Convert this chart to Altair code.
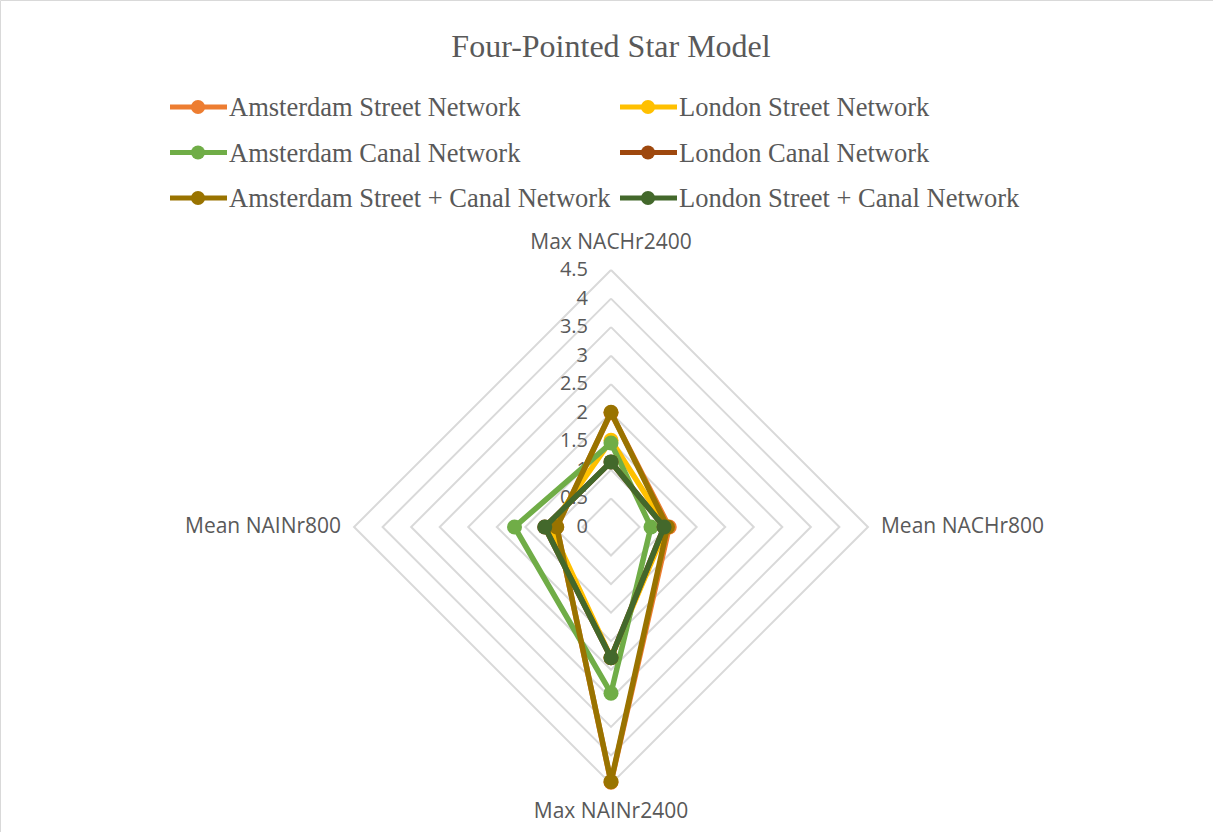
import altair as alt
import pandas as pd

# ---------------- data ----------------
axis_names = ["Max NACHr2400", "Mean NACHr800", "Max NAINr2400", "Mean NAINr800"]
series_names = [
    "Amsterdam Street Network",
    "London Street Network",
    "Amsterdam Canal Network",
    "London Canal Network",
    "Amsterdam Street + Canal Network",
    "London Street + Canal Network",
]
series_colors = ["#ED7D31", "#FFC000", "#70AD47", "#9E480E", "#997300", "#43682B"]

ams_street = [2.00, 1.02, 4.47, 0.95]
london_street = [1.52, 0.97, 2.29, 1.06]
ams_canal = [1.47, 0.70, 2.91, 1.69]
london_canal = [1.14, 0.93, 2.29, 1.16]
ams_street_canal = [2.01, 0.99, 4.46, 0.95]
london_street_canal = [1.14, 0.93, 2.29, 1.16]
series_values = [ams_street, london_street, ams_canal, london_canal,
                 ams_street_canal, london_street_canal]

tick_values = [0, 0.5, 1, 1.5, 2, 2.5, 3, 3.5, 4, 4.5]
tick_labels = ["0", "0.5", "1", "1.5", "2", "2.5", "3", "3.5", "4", "4.5"]
grid_levels = [0.5, 1, 1.5, 2, 2.5, 3, 3.5, 4, 4.5]
r_max = 4.5

# ---------------- layout ----------------
W, H = 1213, 832
CX, CY = 611, 527
U = 57.1  # pixels per unit
xdom = [-CX / U, (W - CX) / U]
ydom = [-(H - CY) / U, CY / U]

TXT = "#595959"
SANS = "Open Sans"
SERIF = "Liberation Serif"

xs = alt.Scale(domain=xdom, nice=False, zero=False)
ys = alt.Scale(domain=ydom, nice=False, zero=False)

def polar(chart, rfield):
    return chart.transform_calculate(
        ang="PI/2 - datum.k*PI/2"
    ).transform_calculate(
        px=f"datum.{rfield}*cos(datum.ang)",
        py=f"datum.{rfield}*sin(datum.ang)",
    )

X = alt.X("px:Q", scale=xs, axis=None)
Y = alt.Y("py:Q", scale=ys, axis=None)

layers = []

# grid diamonds
grid_rows = [{"level": lv, "k": k} for lv in grid_levels for k in range(5)]
grid = polar(alt.Chart(pd.DataFrame(grid_rows)), "level").mark_line(
    color="#D9D9D9", strokeWidth=2
).encode(x=X, y=Y, detail="level:N", order="k:Q")
layers.append(grid)

# tick labels
ticks_df = pd.DataFrame({"v": tick_values, "lab": tick_labels})
ticks = alt.Chart(ticks_df).mark_text(
    align="right", baseline="middle", font=SANS, fontSize=20, color=TXT
).encode(
    x=alt.value(CX - 23),
    y=alt.Y("v:Q", scale=ys, axis=None),
    text="lab:N",
)
layers.append(ticks)

# axis category labels
ax_df = pd.DataFrame({"name": axis_names, "k": list(range(4)), "r": [r_max] * 4})
ax_styles = [
    dict(align="center", baseline="middle", dy=-27),
    dict(align="left", baseline="middle", dx=13),
    dict(align="center", baseline="middle", dy=28),
    dict(align="right", baseline="middle", dx=-13),
]
for k, st in enumerate(ax_styles):
    lab = polar(alt.Chart(ax_df).transform_filter(f"datum.k == {k}"), "r").mark_text(
        font=SANS, fontSize=21, color=TXT, **st
    ).encode(x=X, y=Y, text="name:N")
    layers.append(lab)

# series: line + markers, drawn in order
for name, color, vals in zip(series_names, series_colors, series_values):
    rows = [{"series": name, "k": k, "val": vals[k % 4]} for k in range(5)]
    df = pd.DataFrame(rows)
    base = polar(alt.Chart(df), "val")
    line = base.mark_line(color=color, strokeWidth=5.5, strokeJoin="round").encode(
        x=X, y=Y, order="k:Q"
    )
    pts = base.transform_filter("datum.k < 4").mark_circle(
        color=color, size=225, opacity=1
    ).encode(x=X, y=Y)
    layers += [line, pts]

# legend (manual, Excel-style line+marker)
for i, (name, color) in enumerate(zip(series_names, series_colors)):
    col, row = i % 2, i // 2
    lx = 170 + col * 450
    ly = 107 + row * 45.5
    one = pd.DataFrame({"name": [name]})
    layers.append(alt.Chart(one).mark_rule(color=color, strokeWidth=5).encode(
        x=alt.value(lx), x2=alt.value(lx + 57), y=alt.value(ly)))
    layers.append(alt.Chart(one).mark_circle(color=color, size=196, opacity=1).encode(
        x=alt.value(lx + 28), y=alt.value(ly)))
    layers.append(alt.Chart(one).mark_text(
        align="left", baseline="middle", font=SERIF, fontSize=26.5, color=TXT
    ).encode(x=alt.value(lx + 59), y=alt.value(ly + 1), text="name:N"))

# title
title_df = pd.DataFrame({"t": ["Four-Pointed Star Model"]})
layers.append(alt.Chart(title_df).mark_text(
    align="center", baseline="middle", font=SERIF, fontSize=32, color=TXT
).encode(x=alt.value(CX), y=alt.value(47), text="t:N"))

chart = alt.layer(*layers).properties(
    width=W, height=H, autosize=alt.AutoSizeParams(type="none"), padding=0,
    background="white",
).configure_view(stroke="#D9D9D9")

chart.save("out.html", embed_options={"renderer": "svg", "actions": False})
